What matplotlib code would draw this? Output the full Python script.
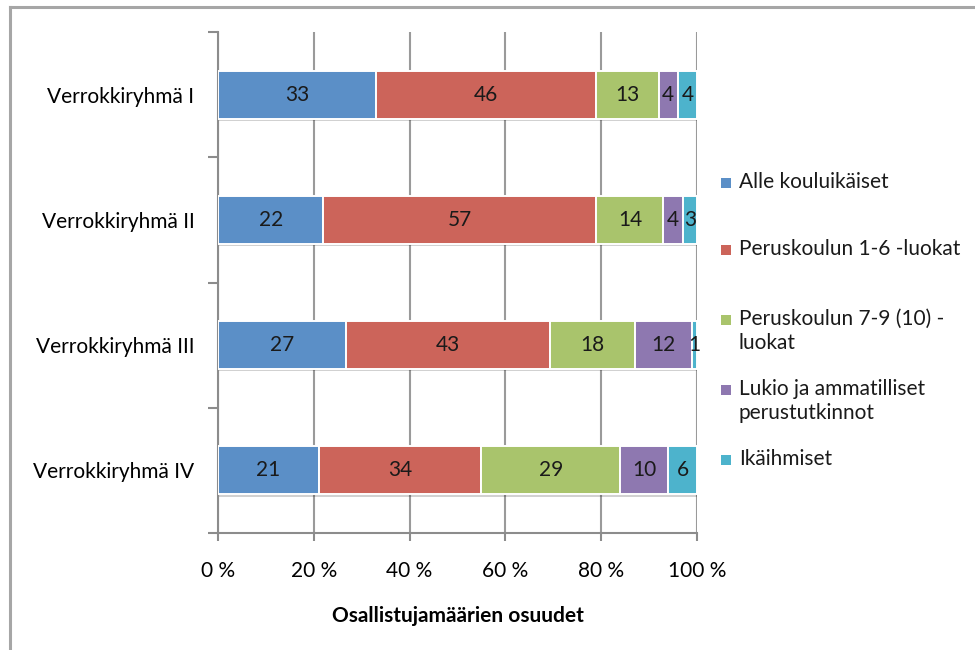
import matplotlib
matplotlib.use("Agg")
import matplotlib.pyplot as plt
import matplotlib.patheffects as pe
from matplotlib.patches import Rectangle
from matplotlib.lines import Line2D
import numpy as np

plt.rcParams['font.family'] = ['Lato', 'DejaVu Sans']

groups = ["Verrokkiryhmä I", "Verrokkiryhmä II", "Verrokkiryhmä III", "Verrokkiryhmä IV"]
series = ["Alle kouluikäiset", "Peruskoulun 1-6 -luokat", "Peruskoulun 7-9 (10) -\nluokat",
          "Lukio ja ammatilliset\nperustutkinnot", "Ikäihmiset"]
alle = [33, 22, 27, 21]
perus16 = [46, 57, 43, 34]
perus79 = [13, 14, 18, 29]
lukio = [4, 4, 12, 10]
ikaihmiset = [4, 3, 1, 6]
colors = ["#5B8FC7", "#CC645A", "#A9C46C", "#8E78B0", "#4DB3CC"]
xticks = [0, 20, 40, 60, 80, 100]
xticklabels = ["0 %", "20 %", "40 %", "60 %", "80 %", "100 %"]

FS = 15

values = np.array([alle, perus16, perus79, lukio, ikaihmiset], dtype=float)
shares = values / values.sum(axis=0) * 100

fig = plt.figure(figsize=(9.75, 6.5), dpi=100)
ax = fig.add_axes([218 / 975, 1 - 533 / 650, 479 / 975, 501 / 650])

# outer chart frame: top and left edges
fx, fy0 = 9.5 / 975, 1 - 7 / 650
fig.add_artist(Line2D([fx, 1.0], [fy0, fy0], transform=fig.transFigure, color="#a6a6a6", linewidth=2.2))
fig.add_artist(Line2D([fx, fx], [0.0, fy0], transform=fig.transFigure, color="#a6a6a6", linewidth=2.2))

y = np.arange(len(groups))
left = np.zeros(len(groups))
shadow = [pe.SimplePatchShadow(offset=(0.8, -1.6), shadow_rgbFace="#000000", alpha=0.18), pe.Normal()]
for i, name in enumerate(series):
    bars = ax.barh(y, shares[i], left=left, height=0.385, color=colors[i], edgecolor="white",
                   linewidth=1.4, zorder=3, label=name)
    for b in bars:
        b.set_path_effects(shadow)
    for j, b in enumerate(bars):
        ax.text(left[j] + shares[i][j] / 2, y[j], f"{int(values[i][j])}", ha="center", va="center",
                fontsize=FS, color="#1a1a1a", zorder=5)
    left += shares[i]

ax.set_xlim(0, 100)
ax.set_ylim(len(groups) - 0.5, -0.5)

ax.set_xticks(xticks)
ax.set_xticklabels(xticklabels)
ax.tick_params(axis="x", length=6, width=1.5, color="#8c8c8c", pad=14, labelsize=FS)
ax.xaxis.grid(True, color="#9a9a9a", linewidth=1.5, zorder=0)
ax.set_axisbelow(True)

ax.set_yticks(np.arange(len(groups) + 1) - 0.5)
ax.set_yticklabels([])
ax.set_yticks(y, minor=True)
ax.set_yticklabels(groups, minor=True)
ax.tick_params(axis="y", which="major", length=7, width=1.5, color="#8c8c8c")
ax.tick_params(axis="y", which="minor", length=0, pad=17, labelsize=FS)

for s in ["top", "right"]:
    ax.spines[s].set_visible(False)
for s in ["left", "bottom"]:
    ax.spines[s].set_color("#8c8c8c")
    ax.spines[s].set_linewidth(1.5)

ax.set_xlabel("Osallistujamäärien osuudet", fontsize=FS, fontweight="bold", labelpad=18)

# legend entries
legend_y = [183, 250, 320, 390, 460]
for name, c, ly in zip(series, colors, legend_y):
    fy = 1 - ly / 650
    fig.patches.append(Rectangle((721 / 975, fy - 5 / 650), 10 / 975, 10 / 650,
                                 transform=fig.transFigure, facecolor=c, edgecolor="none"))
    fig.text(739 / 975, fy + 11 / 650, name, ha="left", va="top", fontsize=FS,
             color="#1a1a1a", linespacing=1.25)

fig.savefig("out.png", dpi=100)
